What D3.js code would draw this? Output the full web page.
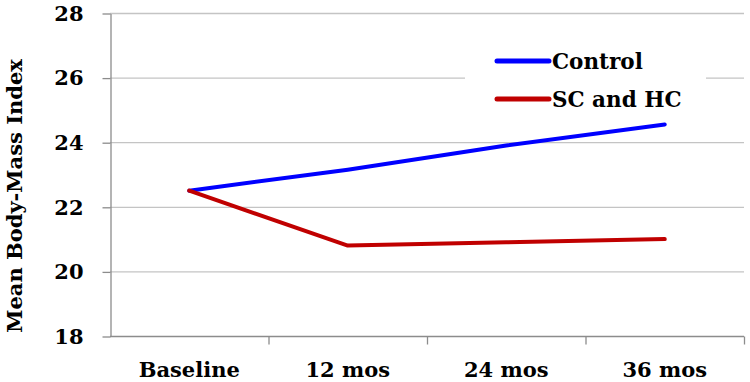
<!DOCTYPE html>
<html>
<head>
<meta charset="utf-8">
<script src="https://cdn.jsdelivr.net/npm/d3@7"></script>
<style>
  body { margin: 0; background: #fff; }
  text { font-family: "DejaVu Serif", serif; font-weight: bold; fill: #000; }
</style>
</head>
<body>
<div class="canva"></div>
<script>
const categories = ["Baseline", "12 mos", "24 mos", "36 mos"];
const control = [22.5, 23.15, 23.9, 24.55];
const schc = [22.5, 20.8, 20.9, 21.0];
const yTicks = [18, 20, 22, 24, 26, 28];
const seriesNames = ["Control", "SC and HC"];
const seriesColors = ["#0000ff", "#c00000"];

const WIDTH = 750, HEIGHT = 382;
const MARGIN = { TOP: 13, BOTTOM: 46, LEFT: 110, RIGHT: 6 };

const svg = d3.select(".canva").append("svg")
    .attr("width", WIDTH)
    .attr("height", HEIGHT);

const x = d3.scaleBand()
    .domain(categories)
    .range([MARGIN.LEFT, WIDTH - MARGIN.RIGHT]);

const y = d3.scaleLinear()
    .domain([18, 28])
    .range([HEIGHT - MARGIN.BOTTOM, MARGIN.TOP]);

// gridlines
svg.append("g")
    .selectAll("line")
    .data(yTicks.slice(1))
    .enter().append("line")
    .attr("x1", MARGIN.LEFT)
    .attr("x2", WIDTH - MARGIN.RIGHT)
    .attr("y1", d => y(d) + 0.5)
    .attr("y2", d => y(d) + 0.5)
    .attr("stroke", "#c4c4c4")
    .attr("stroke-width", 1.3);

// y axis
const yAxis = svg.append("g")
    .attr("transform", `translate(${MARGIN.LEFT + 0.5},0.5)`)
    .call(d3.axisLeft(y).tickValues(yTicks).tickSize(8).tickPadding(19).tickSizeOuter(0));
yAxis.select(".domain").attr("stroke", "#8c8c8c").attr("stroke-width", 1.3);
yAxis.selectAll(".tick line").attr("stroke", "#8c8c8c").attr("stroke-width", 1.3);
yAxis.selectAll(".tick text")
    .attr("font-size", 21)
    .style("font-family", "DejaVu Serif")
    .style("font-weight", "bold")
    .attr("fill", "#000");

// x axis: ticks on band boundaries, labels at centres
const xBase = y(18) + 0.5;
svg.append("line")
    .attr("x1", MARGIN.LEFT)
    .attr("x2", WIDTH - MARGIN.RIGHT)
    .attr("y1", xBase)
    .attr("y2", xBase)
    .attr("stroke", "#8c8c8c")
    .attr("stroke-width", 1.3);

const bounds = categories.map(c => x(c)).slice(1).concat([x(categories[categories.length - 1]) + x.bandwidth()]);
svg.append("g")
    .selectAll("line")
    .data(bounds)
    .enter().append("line")
    .attr("x1", d => d + 0.5)
    .attr("x2", d => d + 0.5)
    .attr("y1", xBase)
    .attr("y2", xBase + 8)
    .attr("stroke", "#8c8c8c")
    .attr("stroke-width", 1.3);

svg.append("g")
    .selectAll("text")
    .data(categories)
    .enter().append("text")
    .attr("x", d => x(d) + x.bandwidth() / 2)
    .attr("y", 377)
    .attr("text-anchor", "middle")
    .attr("font-size", 21)
    .text(d => d);

// y title
svg.append("text")
    .attr("transform", `translate(22,196) rotate(-90)`)
    .attr("text-anchor", "middle")
    .attr("font-size", 21)
    .text("Mean Body-Mass Index");

// legend box (covers gridline)
svg.append("rect")
    .attr("x", 465)
    .attr("y", 40)
    .attr("width", 241)
    .attr("height", 78)
    .attr("fill", "#fff");

// lines
const line = d3.line()
    .x((d, i) => x(categories[i]) + x.bandwidth() / 2)
    .y(d => y(d));

[control, schc].forEach((vals, k) => {
    svg.append("path")
        .datum(vals)
        .attr("d", line)
        .attr("fill", "none")
        .attr("stroke", seriesColors[k])
        .attr("stroke-width", 4)
        .attr("stroke-linecap", "round")
        .attr("stroke-linejoin", "round");
});

// legend
const legend = svg.append("g");
seriesNames.forEach((name, k) => {
    const ly = 61 + k * 38;
    legend.append("line")
        .attr("x1", 497).attr("x2", 549)
        .attr("y1", ly).attr("y2", ly)
        .attr("stroke", seriesColors[k])
        .attr("stroke-width", 5)
        .attr("stroke-linecap", "round");
    legend.append("text")
        .attr("x", 552)
        .attr("y", ly + 8)
        .attr("font-size", 21.5)
        .text(name);
});
</script>
</body>
</html>
